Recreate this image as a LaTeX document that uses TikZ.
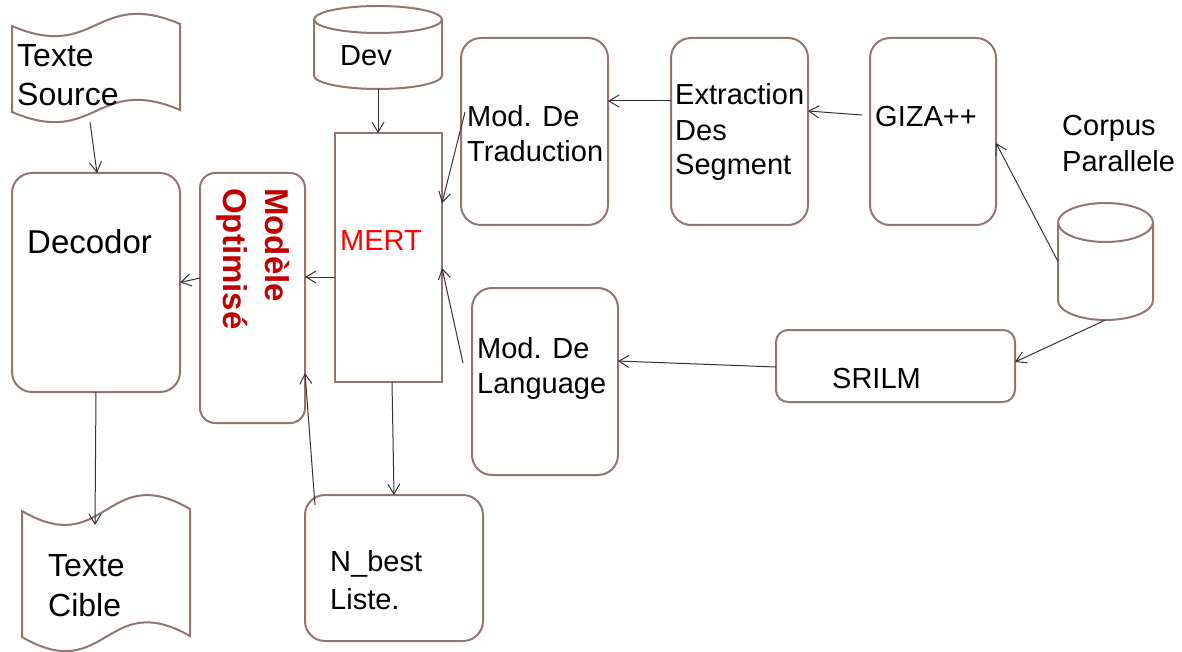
\documentclass[tikz,border=0pt]{standalone}
\usepackage{fontspec}
\setmainfont{Liberation Sans}
\usetikzlibrary{arrows.meta,calc}
\definecolor{boxc}{RGB}{143,120,113}
\definecolor{optred}{RGB}{192,0,0}
\definecolor{mertred}{RGB}{255,0,0}
\begin{document}
\begin{tikzpicture}[x=1pt,y=-1pt,
  box/.style={draw=boxc,line width=2pt,rounded corners=20pt,inner sep=0pt,outer sep=0pt},
  ghost/.style={inner sep=0pt,outer sep=0pt},
  outline/.style={draw=boxc,line width=2pt,fill=white},
  arr/.style={draw=black!80,line width=1pt,-{Straight Barb[length=10pt,width=12pt]}},
  lbl/.style={anchor=base west,inner sep=0pt,font=\fontsize{29}{35}\selectfont},
  biglbl/.style={anchor=base west,inner sep=0pt,font=\fontsize{32}{38}\selectfont},
  optlbl/.style={anchor=base west,inner sep=0pt,rotate=-90,text=optred,font=\fontsize{33}{40}\selectfont\bfseries}]
\useasboundingbox (0,0) rectangle (1182,652);

% ---- boxes ----
\node[box,minimum width=168pt,minimum height=219pt] (dec) at (96,282.5) {};
\node[box,rounded corners=15pt,minimum width=105pt,minimum height=250pt] (opt) at (252.5,298) {};
\node[box,rounded corners=0pt,minimum width=107pt,minimum height=249pt] (mert) at (388.5,257.5) {};
\node[box,minimum width=147pt,minimum height=187pt] (trad) at (534.5,131.5) {};
\node[box,minimum width=137pt,minimum height=187pt] (extr) at (739.5,131.5) {};
\node[box,minimum width=126pt,minimum height=187pt] (giza) at (933,131.5) {};
\node[box,minimum width=146pt,minimum height=187pt] (lang) at (545,381.5) {};
\node[box,rounded corners=12pt,minimum width=239pt,minimum height=72pt] (srilm) at (895.5,366) {};
\node[box,minimum width=178pt,minimum height=146pt] (nbest) at (394,568) {};

% ---- tapes ----
\node[ghost,minimum width=168pt,minimum height=105pt] (src) at (96,67.5) {};
\draw[outline] (12,26) .. controls (96,62) and (96,-12) .. (180,24) -- (180,110)
  .. controls (96,74) and (96,148) .. (12,112) -- cycle;
\node[ghost,minimum width=168pt,minimum height=153pt] (cible) at (106,573.5) {};
\draw[outline] (22,511) .. controls (106,560) and (106,460) .. (190,509) -- (190,636)
  .. controls (106,588) and (106,686) .. (22,637) -- cycle;

% ---- cylinders ----
\node[ghost,minimum width=128pt,minimum height=83pt] (dev) at (378,47.5) {};
\draw[outline] (314,19.5) -- (314,75.5) arc[start angle=180,end angle=360,x radius=64pt,y radius=13.5pt] -- (442,19.5);
\draw[outline] (378,19.5) ellipse[x radius=64pt,y radius=13.5pt];
\node[ghost,minimum width=95pt,minimum height=117pt] (corpus) at (1105.5,261.5) {};
\draw[outline] (1058,222.5) -- (1058,300.5) arc[start angle=180,end angle=360,x radius=47.5pt,y radius=19.5pt] -- (1153,222.5);
\draw[outline] (1105.5,222.5) ellipse[x radius=47.5pt,y radius=19.5pt];

% ---- texts ----
\node[biglbl] (tsrc1) at (17,67) {Texte};
\node[biglbl] (tsrc2) at (17,106) {Source};
\node[lbl,font=\fontsize{33}{40}\selectfont] (tdec) at (27,254) {Decodor};
\node[biglbl] (tcib1) at (48,576) {Texte};
\node[biglbl] (tcib2) at (48,616) {Cible};
\node[optlbl] (topt1) at (265,188) {Modèle};
\node[optlbl] (topt2) at (223,188) {Optimisé};
\node[lbl,text=mertred] (tmert) at (340,251) {MERT};
\node[lbl] (tdev) at (340,66) {Dev};
\node[lbl] (ttrad1) at (467,127) {Mod. De};
\node[lbl] (ttrad2) at (467,162) {Traduction};
\node[lbl] (textr1) at (675,105) {Extraction};
\node[lbl] (textr2) at (675,141) {Des};
\node[lbl] (textr3) at (675,175) {Segment};
\node[lbl] (tgiza) at (875,127) {GIZA++};
\node[lbl] (tcorp1) at (1062,136) {Corpus};
\node[lbl] (tcorp2) at (1062,172) {Parallele};
\node[lbl] (tlang1) at (477,358) {Mod. De};
\node[lbl] (tlang2) at (477,393) {Language};
\node[lbl] (tsrilm) at (832,388) {SRILM};
\node[lbl] (tnb1) at (330,571) {N\_best};
\node[lbl] (tnb2) at (330,609) {Liste.};

% ---- connectors ----
\draw[arr] ($(src.south)+(-6,2)$) -- ($(dec.north)+(1,0)$);
\draw[arr] (dec.south) -- ($(cible.north)+(-11,28)$);
\draw[arr] ($(opt.west)+(0,-20)$) -- (dec.east);
\draw[arr] ($(mert.west)+(0,19.5)$) -- ($(opt.east)+(0,-21)$);
\draw[arr] (dev.south) -- ($(mert.north)+(-10.5,0)$);
\draw[arr] ($(trad.west)+(4,-19.5)$) -- ($(mert.east)+(0,-54.5)$);
\draw[arr] ($(lang.west)+(-9,-18.5)$) -- ($(mert.east)+(0,10.5)$);
\draw[arr] ($(mert.south)+(3.5,0)$) -- (nbest.north);
\draw[arr] ($(nbest.north west)+(10,10)$) -- ($(opt.east)+(0,75)$);
\draw[arr] ($(extr.west)+(0,-30.5)$) -- ($(trad.east)+(0,-30.5)$);
\draw[arr] ($(giza.west)+(-8,-16.5)$) -- ($(extr.east)+(0,-20.5)$);
\draw[arr] (corpus.west) -- ($(giza.east)+(0,11.5)$);
\draw[arr] (corpus.south) -- ($(srilm.east)+(0,-4)$);
\draw[arr] ($(srilm.west)+(0,1)$) -- ($(lang.east)+(0,-20.5)$);
\end{tikzpicture}
\end{document}
